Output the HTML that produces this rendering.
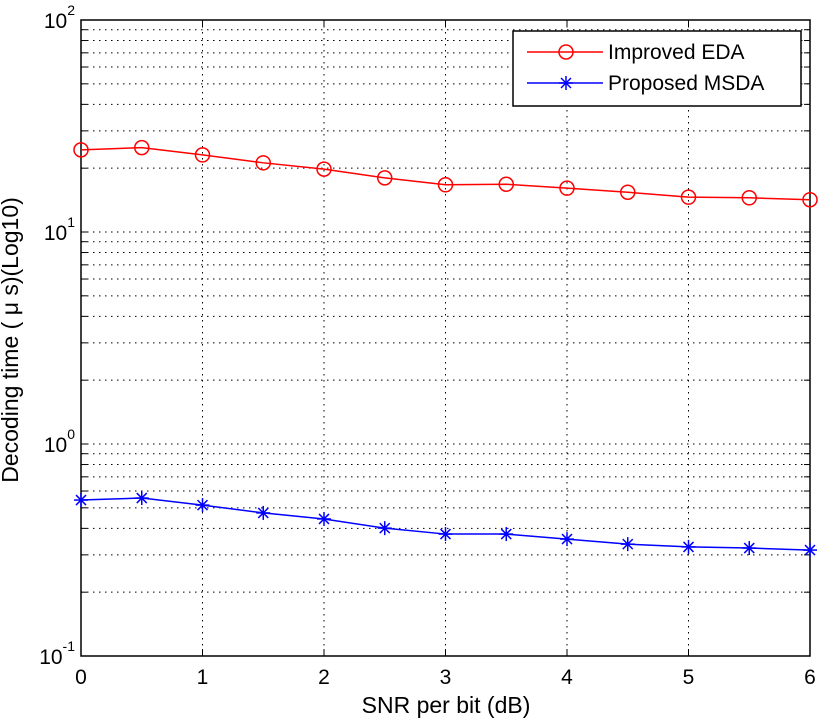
<!DOCTYPE html>
<html><head><meta charset="utf-8"><style>
body{margin:0;background:#fff;}
svg{display:block;font-family:"Liberation Sans",sans-serif;}
</style></head><body>
<svg id="chart" width="819" height="721" viewBox="0 0 819 721" xmlns="http://www.w3.org/2000/svg">
<g id="grid"></g>
<g id="axes"></g>
<g id="series"></g>
<text x="446" y="713" font-size="23" text-anchor="middle">SNR per bit (dB)</text>
<text transform="translate(18,340) rotate(-90)" font-size="23" text-anchor="middle">Decoding time ( μ s)(Log10)</text>
<g>
<rect x="513" y="31" width="288" height="75" fill="#fff" stroke="#000" stroke-width="1.5"/>
<line x1="527" y1="52" x2="603" y2="52" stroke="#f00" stroke-width="1.5"/>
<circle cx="566" cy="52" r="7" fill="none" stroke="#f00" stroke-width="1.5"/>
<text x="608" y="59" font-size="21">Improved EDA</text>
<line x1="527" y1="83" x2="603" y2="83" stroke="#00f" stroke-width="1.5"/>
<g stroke="#00f" stroke-width="1.5"><line x1="566" y1="76" x2="566" y2="90"/><line x1="559" y1="83" x2="573" y2="83"/><line x1="561" y1="78" x2="571" y2="88"/><line x1="561" y1="88" x2="571" y2="78"/></g>
<text x="608" y="90" font-size="21">Proposed MSDA</text>
</g>
</svg>
<script>
const xValues = [0,0.5,1,1.5,2,2.5,3,3.5,4,4.5,5,5.5,6];
const improvedEDA = [24.4,25.0,23.1,21.2,19.8,18.0,16.7,16.8,16.1,15.4,14.6,14.5,14.2];
const proposedMSDA = [0.544,0.556,0.515,0.473,0.443,0.401,0.376,0.376,0.356,0.337,0.327,0.323,0.316];
const xTicks = [0,1,2,3,4,5,6];
const yDecades = [-1,0,1,2];

const L=81,R=810,T=20,B=656;
const xs=v=>L+(v-0)/(6-0)*(R-L);
const ys=v=>B-(Math.log10(v)+1)/3*(B-T);
const NS='http://www.w3.org/2000/svg';
function mk(tag,attrs,parent){const e=document.createElementNS(NS,tag);for(const k in attrs)e.setAttribute(k,attrs[k]);parent.appendChild(e);return e;}
const grid=document.getElementById('grid'),axes=document.getElementById('axes'),series=document.getElementById('series');
xTicks.forEach(t=>{if(t>0&&t<6){const g=mk('line',{x1:xs(t),x2:xs(t),y1:T,y2:B,stroke:'#000','stroke-width':1,'stroke-dasharray':'1.5 4.5'},grid);}});
for(let d=-1;d<2;d++){for(let m=1;m<=9;m++){const v=m*Math.pow(10,d);if(d===-1&&m===1)continue;
const g=mk('line',{x1:L,x2:R,y1:ys(v),y2:ys(v),stroke:'#000','stroke-width':1,'stroke-dasharray':'1.5 4.5'},grid);
mk('line',{x1:L,x2:L+6,y1:ys(v),y2:ys(v),stroke:'#000','stroke-width':1},axes);mk('line',{x1:R,x2:R-6,y1:ys(v),y2:ys(v),stroke:'#000','stroke-width':1},axes);}}
const frame=mk('rect',{x:L,y:T,width:R-L,height:B-T,fill:'none',stroke:'#000','stroke-width':1.5},axes);

xTicks.forEach(t=>{mk('line',{x1:xs(t),x2:xs(t),y1:B,y2:B-7,stroke:'#000'},axes);mk('line',{x1:xs(t),x2:xs(t),y1:T,y2:T+7,stroke:'#000'},axes);
const tx=mk('text',{x:xs(t),y:B+28,'font-size':21,'text-anchor':'middle'},axes);tx.textContent=t;
});
yDecades.forEach(d=>{const tx=mk('text',{x:L-6,y:ys(Math.pow(10,d))+8,'font-size':21,'text-anchor':'end'},axes);

tx.appendChild(document.createTextNode('10'));const sp=mk('tspan',{dy:-13,'font-size':14},tx);sp.textContent=d;});
function pts(arr){return arr.map((v,i)=>xs(xValues[i])+','+ys(v)).join(' ');}
const l1=mk('polyline',{points:pts(improvedEDA),fill:'none',stroke:'#f00','stroke-width':1.5},series);

improvedEDA.forEach((v,i)=>{const c=mk('circle',{cx:xs(xValues[i]),cy:ys(v),r:7,fill:'none',stroke:'#f00','stroke-width':1.5},series);
});
const l2=mk('polyline',{points:pts(proposedMSDA),fill:'none',stroke:'#00f','stroke-width':1.5},series);

proposedMSDA.forEach((v,i)=>{const x=xs(xValues[i]),y=ys(v);const g=mk('g',{stroke:'#00f','stroke-width':1.5},series);

mk('line',{x1:x,y1:y-7,x2:x,y2:y+7},g);mk('line',{x1:x-7,y1:y,x2:x+7,y2:y},g);mk('line',{x1:x-5,y1:y-5,x2:x+5,y2:y+5},g);mk('line',{x1:x-5,y1:y+5,x2:x+5,y2:y-5},g);});
</script>
</body></html>
